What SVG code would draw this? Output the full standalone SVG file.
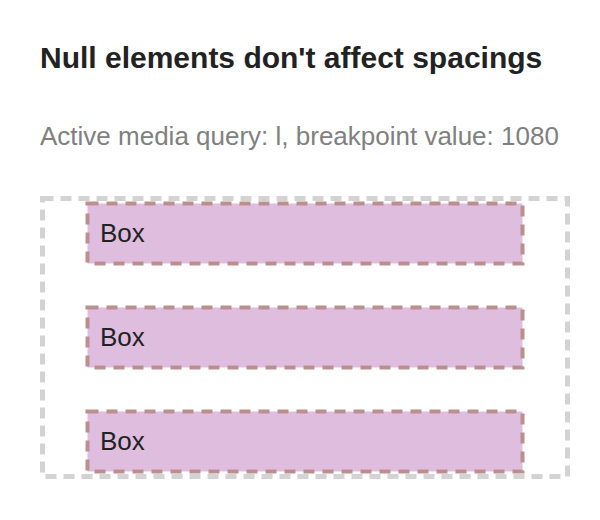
<svg xmlns="http://www.w3.org/2000/svg" width="600" height="520" viewBox="0 0 600 520">
<style>
.title{font-family:"Liberation Sans",Arial,sans-serif;font-weight:bold;font-size:30px;fill:#222}
.sub{font-family:"Liberation Sans",Arial,sans-serif;font-size:26px;fill:#808080}
.box rect{fill:#dfbddf;stroke:#bc8f8f;stroke-width:4;stroke-dasharray:11 8}
.box text{font-family:"Liberation Sans",Arial,sans-serif;font-size:26px;fill:#222}
.outer{fill:none;stroke:#d3d3d3;stroke-width:5;stroke-dasharray:11 7}
</style>
<rect width="600" height="520" fill="#fff"/>
<text class="title" x="40" y="68">Null elements don't affect spacings</text>
<text class="sub" x="40" y="145">Active media query: l, breakpoint value: 1080</text>
<rect id="container" class="outer" x="42.5" y="198.5" width="525" height="278"/>
<g id="box1" class="box"><rect x="87.5" y="203.5" width="435" height="60"/><text x="100" y="242">Box</text></g>
<g id="box2" class="box"><rect x="87.5" y="307.5" width="435" height="60"/><text x="100" y="346">Box</text></g>
<g id="box3" class="box"><rect x="87.5" y="411.5" width="435" height="60"/><text x="100" y="450">Box</text></g>
<g id="connectors"></g>
</svg>
